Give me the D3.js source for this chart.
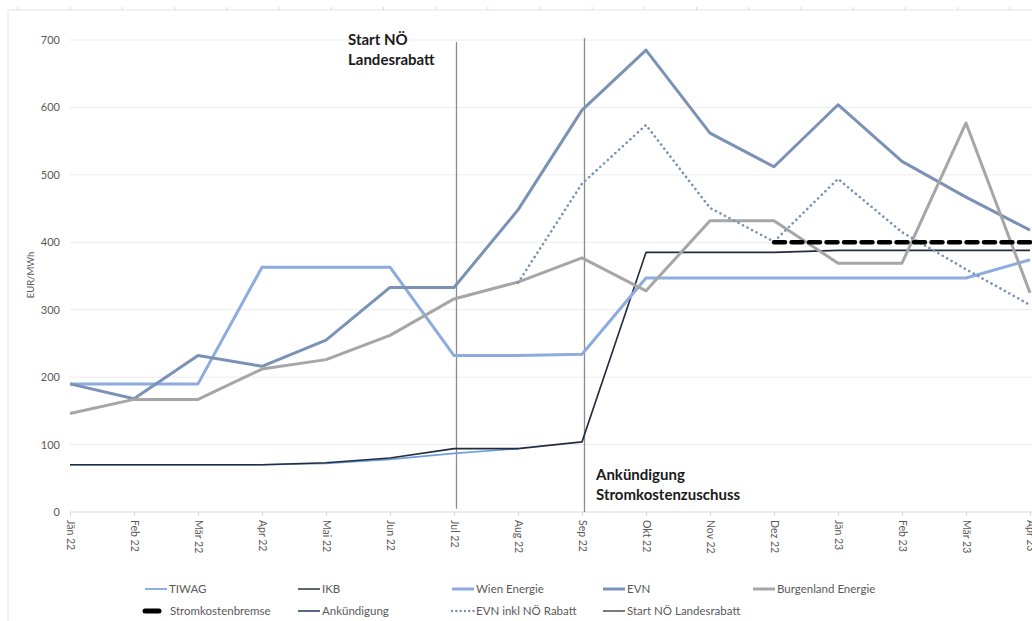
<!DOCTYPE html>
<html><head><meta charset="utf-8">
<script src="https://cdn.jsdelivr.net/npm/d3@7"></script>
<style>
html,body{margin:0;padding:0;background:#fff;}
svg{display:block;font-family:Lato,"Open Sans",sans-serif;}
</style></head>
<body><svg id="c" width="1032" height="621"></svg>
<script>
const categories = ["Jän 22","Feb 22","Mär 22","Apr 22","Mai 22","Jun 22","Jul 22","Aug 22","Sep 22","Okt 22","Nov 22","Dez 22","Jän 23","Feb 23","Mär 23","Apr 23"];
const yTicks = [0,100,200,300,400,500,600,700];
const tiwag      = [70,70,70,70,72,78,87,94,null,null,null,null,null,null,null,null];
const ikb        = [70,70,70,70,73,80,94,94,104,385,385,385,388,388,388,388];
const wien       = [190,190,190,363,363,363,232,232,234,347,347,347,347,347,347,374];
const evn        = [190,168,232,216,255,333,333,448,596,685,562,512,604,520,467,418];
const burgenland = [146,167,167,212,226,262,316,341,377,328,432,432,369,369,577,325];
const evnRabatt  = [null,null,null,null,null,null,null,340,487,574,451,401,494,415,360,307];
const bremse     = [null,null,null,null,null,null,null,null,null,null,null,400,400,400,400,400];
const markerLines = [{name:"Start NÖ Landesrabatt", cat:"Jul 22", from:5, to:697},
                     {name:"Ankündigung", cat:"Sep 22", from:0, to:703}];
const annotations = [{cat:"Jul 22", lines:["Start NÖ","Landesrabatt"], side:"left"},
                     {cat:"Sep 22", lines:["Ankündigung","Stromkostenzuschuss"], side:"right"}];

const series = [
  {name:"TIWAG", data:tiwag, color:"#6f9de2", w:1.6},
  {name:"IKB", data:ikb, color:"#222c3f", w:1.6},
  {name:"Wien Energie", data:wien, color:"#8dabdf", w:3},
  {name:"EVN", data:evn, color:"#7a92b5", w:3},
  {name:"Burgenland Energie", data:burgenland, color:"#a6a6a6", w:3},
  {name:"EVN inkl NÖ Rabatt", data:evnRabatt, color:"#7a92b5", w:2.6, dash:"0.1,5", cap:"round"},
  {name:"Stromkostenbremse", data:bremse, color:"#000", w:4.5, dash:"11,6.5", cap:"round"}
];

const svg = d3.select("#c");
const x = d3.scalePoint().domain(categories).range([70,1030]);
const y = d3.scaleLinear().domain([0,700]).range([512,40]);

// outer frame (chart area border)
svg.append("line").attr("x1",8).attr("x2",1032).attr("y1",10).attr("y2",10).attr("stroke","#e4e4e4");
svg.append("line").attr("x1",8).attr("x2",8).attr("y1",10).attr("y2",621).attr("stroke","#e4e4e4");
svg.selectAll(".toptick").data(d3.range(18,1032,52.2)).join("line")
  .attr("x1",d=>d).attr("x2",d=>d).attr("y1",7).attr("y2",10).attr("stroke","#d9d9d9");

// gridlines
svg.append("g").selectAll("line").data(yTicks.filter(d=>d>0)).join("line")
  .attr("x1",70).attr("x2",1032).attr("y1",d=>y(d)).attr("y2",d=>y(d))
  .attr("stroke","#ebebeb").attr("stroke-width",1);

// y axis labels
const ya = svg.append("g").attr("transform","translate(70,0)").call(d3.axisLeft(y).tickValues(yTicks).tickSize(0).tickPadding(10));
ya.select(".domain").remove();
ya.selectAll("text").attr("fill","#595959").style("font-size","11px").style("font-family","Lato,'Open Sans',sans-serif");

// x axis
const xa = svg.append("g").attr("transform","translate(0,512)").call(d3.axisBottom(x).tickSize(4).tickPadding(0));
xa.select(".domain").attr("d","M70,0H1032").attr("stroke","#d9d9d9");
xa.selectAll(".tick line").attr("stroke","#d9d9d9");
xa.selectAll("text").attr("fill","#595959").style("font-size","10.5px").style("font-family","Lato,'Open Sans',sans-serif")
  .attr("transform","rotate(90)").attr("text-anchor","start").attr("dy","0.35em").attr("x",8).attr("y",0);

// y title
svg.append("text").attr("transform","translate(34,275) rotate(-90)").attr("text-anchor","middle")
  .attr("fill","#595959").style("font-size","9.5px").text("EUR/MWh");

// marker vertical lines (drawn slightly right of the tick, as in the original)
svg.append("g").selectAll("line").data(markerLines).join("line")
  .attr("x1",d=>x(d.cat)+2.5).attr("x2",d=>x(d.cat)+2.5).attr("y1",d=>y(d.from)).attr("y2",d=>y(d.to))
  .attr("stroke","#8c8c8c").attr("stroke-width",1.3);

// series lines
const line = d3.line().defined(d=>d.v!=null).x(d=>x(d.c)).y(d=>y(d.v));
series.forEach(s=>{
  svg.append("path").datum(categories.map((c,i)=>({c, v:s.data[i]})))
    .attr("d",line).attr("fill","none").attr("stroke",s.color).attr("stroke-width",s.w)
    .attr("stroke-linejoin","round")
    .attr("stroke-linecap",s.cap||"butt")
    .attr("stroke-dasharray",s.dash||null);
});

// annotations
annotations.forEach(a=>{
  const ax = a.side==="left" ? x(a.cat)-106 : x(a.cat)+14;
  const t = svg.append("text").attr("fill","#1a1a1a").style("font-size","15px").style("font-weight","700")
    .attr("x", ax).attr("y", a.side==="left" ? 45 : 480);
  a.lines.forEach((l,i)=>t.append("tspan").attr("x", ax).attr("dy", i?20:0).text(l));
});

// legend
const legendItems = [
  {name:"TIWAG", color:"#6f9de2", w:1.6, col:0, row:0},
  {name:"IKB", color:"#3a3f4a", w:1.6, col:1, row:0},
  {name:"Wien Energie", color:"#8dabdf", w:3, col:2, row:0},
  {name:"EVN", color:"#7a92b5", w:3, col:3, row:0},
  {name:"Burgenland Energie", color:"#a6a6a6", w:3, col:4, row:0},
  {name:"Stromkostenbremse", color:"#000", w:5, col:0, row:1, marker:true},
  {name:"Ankündigung", color:"#2f4365", w:1.6, col:1, row:1},
  {name:"EVN inkl NÖ Rabatt", color:"#7a92b5", w:2.4, col:2, row:1, dash:"0.1,4.2", cap:"round"},
  {name:"Start NÖ Landesrabatt", color:"#595959", w:1.6, col:3, row:1}
];
const colX = [145,298,452,603,753];
const rowY = [589,611];
const lg = svg.append("g").selectAll("g").data(legendItems).join("g")
  .attr("transform",d=>`translate(${colX[d.col]},${rowY[d.row]})`);
lg.append("line").attr("x1",0).attr("x2",d=>d.marker?14:22).attr("y1",0).attr("y2",0)
  .attr("stroke",d=>d.color).attr("stroke-width",d=>d.w).attr("stroke-dasharray",d=>d.dash||null)
  .attr("stroke-linecap",d=>d.cap||(d.marker?"round":"butt"));
lg.append("text").attr("x",d=>d.marker?25:24).attr("y",0).attr("dy","0.35em")
  .attr("fill","#595959").style("font-size","11.5px").text(d=>d.name);
</script></body></html>
